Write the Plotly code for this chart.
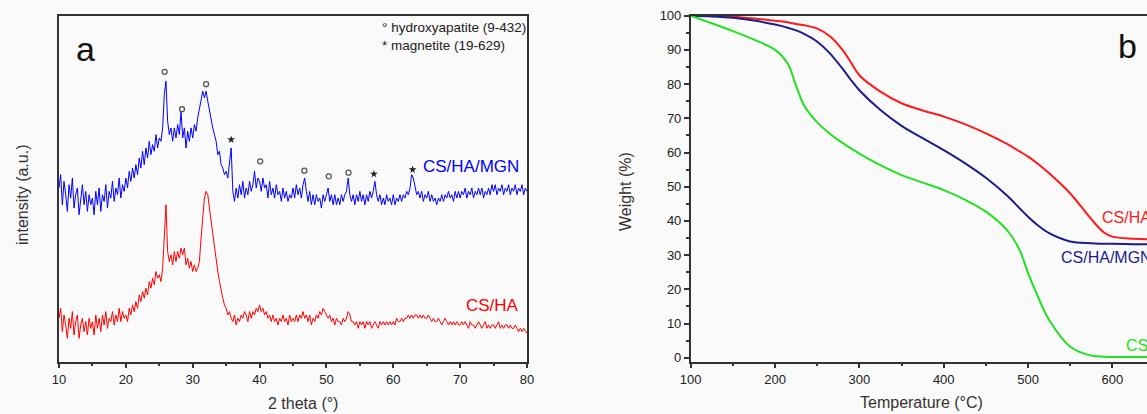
import numpy as np
import plotly.graph_objects as go

# ---------------- Panel a: XRD ----------------
two_theta = np.round(np.arange(10, 80.001, 0.25), 2)

xrd_cs_ha_mgn = [
    52, 56, 47, 54, 50, 45, 53, 49, 55, 46, 50, 52, 44, 49, 53, 47, 51, 45, 50, 47,
    49, 44, 51, 47, 52, 45, 50, 48, 53, 46, 51, 49, 54, 48, 52, 50, 55, 49, 53, 51,
    55, 52, 57, 54, 58, 55, 59, 56, 61, 58, 63, 59, 64, 61, 66, 62, 65, 63, 68, 64,
    67, 66, 70, 80, 84, 72, 68, 70, 66, 70, 67, 71, 68, 75, 67, 70, 64, 69, 66, 70,
    67, 71, 69, 73, 76, 79, 81, 79, 81, 78, 75, 73, 70, 68, 66, 62, 63, 59, 58, 56,
    57, 55, 60, 64, 51, 48, 52, 49, 53, 50, 54, 49, 52, 50, 54, 51, 53, 57, 52, 55,
    54, 51, 55, 52, 53, 49, 54, 50, 52, 49, 53, 50, 51, 48, 52, 49, 51, 48, 50, 49,
    52, 49, 53, 50, 52, 49, 53, 55, 51, 48, 51, 47, 50, 47, 50, 48, 49, 46, 50, 48,
    50, 52, 48, 50, 47, 50, 47, 49, 47, 50, 48, 50, 51, 55, 50, 48, 50, 47, 50, 48,
    51, 48, 50, 47, 50, 48, 51, 49, 51, 54, 50, 48, 50, 47, 49, 47, 50, 48, 49, 47,
    50, 47, 49, 48, 50, 48, 50, 49, 51, 50, 52, 56, 55, 52, 50, 51, 49, 51, 48, 50,
    49, 51, 48, 50, 48, 49, 47, 49, 48, 50, 48, 50, 49, 51, 49, 50, 48, 51, 49, 51,
    49, 51, 50, 52, 49, 51, 50, 52, 49, 51, 50, 52, 50, 52, 49, 51, 50, 52, 50, 53,
    51, 53, 50, 52, 51, 53, 50, 52, 51, 53, 50, 52, 51, 53, 50, 52, 51, 53, 50, 52,
    51,
]

xrd_cs_ha = [
    13, 16, 9, 14, 11, 7, 13, 10, 15, 8, 12, 14, 7, 11, 13, 9, 12, 8, 13, 10,
    12, 8, 14, 10, 13, 9, 14, 11, 15, 10, 13, 12, 15, 11, 14, 12, 16, 12, 15, 13,
    14, 12, 16, 14, 17, 15, 18, 16, 20, 18, 21, 19, 22, 20, 24, 22, 25, 23, 27, 25,
    26, 24, 28, 40, 47, 33, 30, 32, 29, 33, 30, 33, 31, 34, 32, 34, 29, 31, 28, 30,
    27, 29, 27, 28, 30, 37, 44, 49, 51, 50, 46, 42, 38, 34, 30, 27, 24, 21, 19, 17,
    16, 14, 15, 13, 12, 14, 11, 13, 12, 14, 13, 15, 14, 12, 15, 13, 15, 14, 16, 15,
    17, 15, 16, 14, 15, 13, 14, 12, 14, 12, 13, 11, 13, 12, 14, 12, 13, 11, 14, 12,
    13, 12, 14, 12, 14, 13, 15, 13, 14, 12, 14, 11, 13, 12, 14, 13, 15, 14, 16, 15,
    14, 13, 14, 12, 13, 11, 13, 12, 12, 11, 13, 12, 13, 15, 14, 12, 12, 11, 12, 10,
    12, 11, 12, 10, 12, 11, 12, 10, 11, 12, 11, 10, 12, 11, 12, 11, 12, 11, 12, 11,
    12, 11, 13, 12, 12, 13, 12, 13, 13, 14, 13, 14, 13, 14, 14, 13, 14, 13, 14, 13,
    13, 14, 13, 12, 13, 12, 12, 13, 12, 11, 12, 13, 12, 11, 12, 11, 12, 11, 12, 11,
    11, 12, 11, 12, 11, 10, 12, 11, 11, 10, 11, 12, 11, 10, 11, 12, 10, 11, 10, 11,
    11, 10, 11, 12, 10, 11, 10, 11, 11, 10, 11, 10, 10, 11, 10, 9, 10, 9, 10, 9,
    8.5,
]

hap_peak_x = [25.8, 28.4, 32.0, 40.1, 46.7, 50.35, 53.3]
hap_peak_y = [86.8, 75.6, 83.1, 60.0, 57.2, 55.5, 56.6]
mag_peak_x = [35.75, 57.1, 62.9]
mag_peak_y = [66.5, 56.2, 57.5]

# ---------------- Panel b: TGA ----------------
temperature = [100, 125, 150, 175, 200, 215, 225, 235, 250, 265, 280, 290, 300, 325, 350,
               375, 400, 425, 450, 475, 490, 500, 510, 525, 550, 575, 590, 600, 625, 641]
tga_cs_ha = [100, 99.9, 99.7, 99.2, 98.5, 98.1, 97.6, 97.2, 96.2, 94.0, 90.0, 86.3, 82.6, 77.8, 74.4,
             72.3, 70.5, 68.3, 65.6, 62.5, 60.3, 58.8, 57.0, 53.9, 48.0, 40.5, 36.6, 35.4, 34.8, 34.6]
tga_cs_ha_mgn = [100, 99.8, 99.4, 98.6, 97.4, 96.5, 95.7, 94.6, 92.4, 89.0, 84.5, 81.2, 78.2, 72.4, 67.8,
                 64.2, 60.7, 56.9, 52.6, 47.4, 43.7, 41.2, 39.0, 36.4, 34.0, 33.5, 33.3, 33.3, 33.2, 33.2]
tga_cs = [100, 97.8, 95.5, 93.0, 90.0, 86.0, 79.5, 73.5, 68.8, 65.5, 62.8, 61.2, 59.7, 56.3, 53.4,
          51.2, 49.0, 46.2, 42.7, 37.3, 31.5, 24.7, 18.8, 11.0, 3.2, 0.6, 0.3, 0.2, 0.2, 0.2]

W, H = 1147, 414
FONT = "Liberation Sans, Arial, sans-serif"
AX = "#333333"


def px(x):
    return x / W


def py(y):
    return 1 - y / H


fig = go.Figure()

fig.add_trace(go.Scatter(x=two_theta, y=xrd_cs_ha_mgn, mode="lines",
                         line=dict(color="#0000ff", width=1), xaxis="x", yaxis="y"))
fig.add_trace(go.Scatter(x=two_theta, y=xrd_cs_ha, mode="lines",
                         line=dict(color="#ff0000", width=1), xaxis="x", yaxis="y"))
fig.add_trace(go.Scatter(x=hap_peak_x, y=hap_peak_y, mode="markers",
                         marker=dict(symbol="circle-open", size=5, color="#555555",
                                     line=dict(width=1.3, color="#555555")),
                         xaxis="x", yaxis="y"))
fig.add_trace(go.Scatter(x=mag_peak_x, y=mag_peak_y, mode="markers",
                         marker=dict(symbol="star", size=6, color="#222222"),
                         xaxis="x", yaxis="y"))

fig.add_trace(go.Scatter(x=temperature, y=tga_cs_ha, mode="lines", line_shape="spline",
                         line=dict(color="#ff1a1a", width=2), xaxis="x2", yaxis="y2"))
fig.add_trace(go.Scatter(x=temperature, y=tga_cs_ha_mgn, mode="lines", line_shape="spline",
                         line=dict(color="#1c1c8c", width=2), xaxis="x2", yaxis="y2"))
fig.add_trace(go.Scatter(x=temperature, y=tga_cs, mode="lines", line_shape="spline",
                         line=dict(color="#22e022", width=2), xaxis="x2", yaxis="y2"))

ydom = [py(361.7), py(15.7)]
tickfont = dict(family=FONT, size=13, color="#222222")

fig.update_layout(
    width=W, height=H,
    margin=dict(l=0, r=0, t=0, b=0),
    paper_bgcolor="#fafafa", plot_bgcolor="#fafafa",
    showlegend=False,
    font=dict(family=FONT, color="#222222"),
    xaxis=dict(domain=[px(59), px(527)], range=[10, 80], anchor="y",
               showline=True, linecolor=AX, linewidth=1.5, mirror=True,
               ticks="outside", ticklen=5, tickwidth=1.5, tickcolor=AX,
               tick0=10, dtick=10, tickfont=tickfont,
               minor=dict(dtick=5, ticks="outside", ticklen=3, tickwidth=1.5,
                          tickcolor=AX, showgrid=False),
               showgrid=False, zeroline=False, automargin=False),
    yaxis=dict(domain=ydom, range=[0, 103.6], anchor="x",
               showline=True, linecolor=AX, linewidth=1.5, mirror=True,
               ticks="", showticklabels=False, showgrid=False, zeroline=False,
               automargin=False),
    xaxis2=dict(domain=[px(690.7), 1], range=[100, 641], anchor="y2",
                showline=True, linecolor=AX, linewidth=1.5, mirror=True,
                ticks="outside", ticklen=5, tickwidth=1.5, tickcolor=AX,
                tick0=100, dtick=100, tickfont=tickfont,
                minor=dict(dtick=50, ticks="outside", ticklen=3, tickwidth=1.5,
                           tickcolor=AX, showgrid=False),
                showgrid=False, zeroline=False, automargin=False),
    yaxis2=dict(domain=ydom, range=[-1.17, 100], anchor="x2",
                showline=True, linecolor=AX, linewidth=1.5, mirror=False,
                ticks="outside", ticklen=5, tickwidth=1.5, tickcolor=AX,
                tick0=0, dtick=10, tickfont=tickfont,
                minor=dict(dtick=5, ticks="outside", ticklen=3, tickwidth=1.5,
                           tickcolor=AX, showgrid=False),
                showgrid=False, zeroline=False, automargin=False),
)


def note(text, x, y, size, color="#222222", xanchor="center", angle=0):
    fig.add_annotation(text=text, x=px(x), y=py(y), xref="paper", yref="paper",
                       showarrow=False, xanchor=xanchor, yanchor="middle",
                       textangle=angle, font=dict(family=FONT, size=size, color=color))


# panel letters
note("a", 86, 49, 34, "#111111")
note("b", 1127, 46, 34, "#111111")

# panel a texts
note("° hydroxyapatite (9-432)", 380, 28, 13.5, "#222222", "left")
note("* magnetite (19-629)", 380, 45, 13.5, "#222222", "left")
note("CS/HA/MGN", 521, 166, 17, "#0000ff", "right")
note("CS/HA", 521, 305, 17, "#ff0000", "right")
note("intensity (a.u.)", 22, 195, 16, "#333333", angle=-90)
note("2 theta (°)", 303, 403, 16, "#333333")

# panel b texts (cut by the right edge, as in the reference)
note("CS/HA", 1100, 217, 16, "#ff1a1a", "left")
note("CS/HA/MGN", 1059, 257, 16, "#1c1c8c", "left")
note("CS", 1124, 345, 16, "#22e022", "left")
note("Weight (%)", 625, 192, 16, "#333333", angle=-90)
note("Temperature (°C)", 921, 402, 16, "#333333")

fig.write_html(
    "out.html",
    config={"displayModeBar": False},
    post_script="document.body.style.margin='0';document.body.style.padding='0';"
                "document.body.style.overflow='hidden';",
)
